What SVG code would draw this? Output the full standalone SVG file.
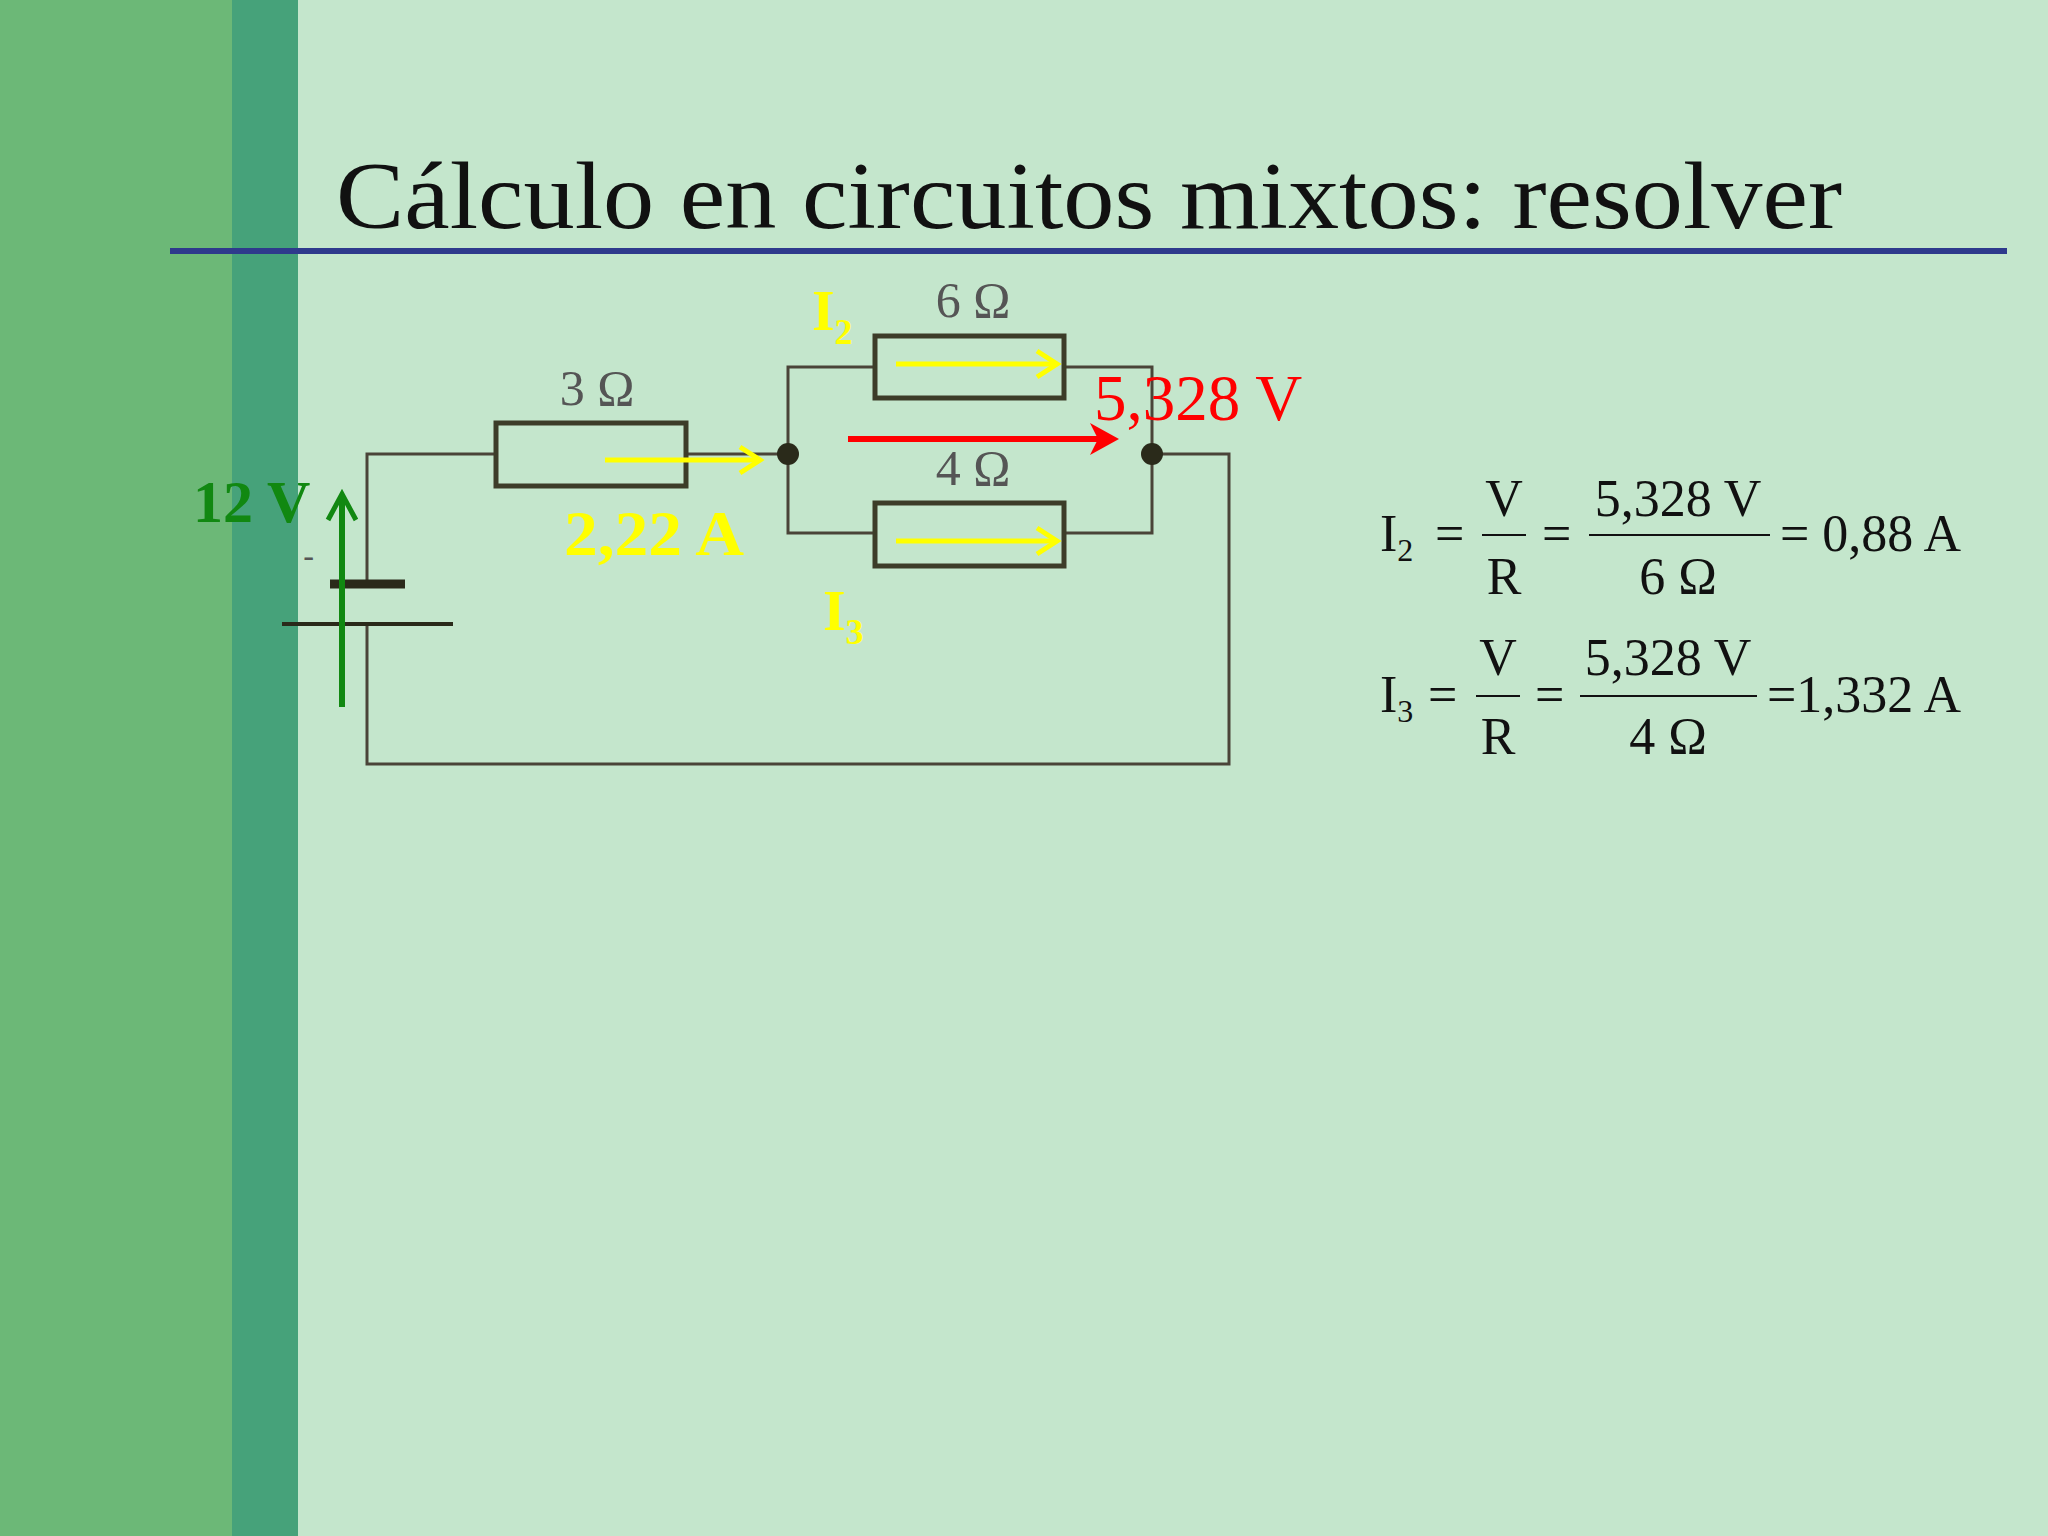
<svg xmlns="http://www.w3.org/2000/svg" width="2048" height="1536" viewBox="0 0 2048 1536">
<defs>
<style>
.w{stroke:#4a4438;stroke-width:3;fill:none}
.r{stroke:#3c3c28;stroke-width:5;fill:none}
.lab{font-family:"Liberation Serif",serif;font-size:50px;fill:#555;text-anchor:middle}
.eq{font-family:"Liberation Serif",serif;font-size:52px;fill:#111}
.y{stroke:#ffff00;stroke-width:5;fill:none}
.yb{font-family:"Liberation Serif",serif;font-weight:bold;fill:#ffff00}
</style>
</defs>
<rect width="2048" height="1536" fill="#c4e6cc"/>
<rect width="232" height="1536" fill="#6cb877"/>
<rect x="232" width="66" height="1536" fill="#46a27a"/>
<text x="336" y="228" font-family="Liberation Serif,serif" font-size="96" fill="#111" textLength="1506" lengthAdjust="spacingAndGlyphs">Cálculo en circuitos mixtos: resolver</text>
<line x1="170" y1="251" x2="2007" y2="251" stroke="#2e3a8c" stroke-width="6"/>
<g id="connectors">
<polyline class="w" points="496,454 367,454 367,584"/>
<polyline class="w" points="367,624 367,764 1229,764 1229,454 1152,454"/>
<line class="w" x1="686" y1="454" x2="788" y2="454"/>
<polyline class="w" points="875,367 788,367 788,533 875,533"/>
<polyline class="w" points="1064,367 1152,367 1152,533 1064,533"/>
<circle cx="788" cy="454" r="11" fill="#2a2a1a"/>
<circle cx="1152" cy="454" r="11" fill="#2a2a1a"/>
</g>
<g id="r3"><rect class="r" x="496" y="423" width="190" height="63" fill="#c4e6cc"/><text class="lab" x="597" y="405">3 Ω</text></g>
<g id="r6"><rect class="r" x="875" y="336" width="189" height="62" fill="#c4e6cc"/><text class="lab" x="973" y="317">6 Ω</text></g>
<g id="r4"><rect class="r" x="875" y="503" width="189" height="63" fill="#c4e6cc"/><text class="lab" x="973" y="485">4 Ω</text></g>
<g id="battery">
<line x1="330" y1="584" x2="405" y2="584" stroke="#2a2a1a" stroke-width="9"/>
<line x1="282" y1="624" x2="453" y2="624" stroke="#2a2a1a" stroke-width="4"/>
<text x="303" y="568" font-family="Liberation Sans,sans-serif" font-size="34" fill="#555">-</text>
</g>
<g id="arrows">
<line x1="342" y1="707" x2="342" y2="498" stroke="#118811" stroke-width="6"/>
<polyline points="328,520 342,494 356,520" stroke="#118811" stroke-width="5" fill="none"/>
<text x="193" y="522" font-family="Liberation Serif,serif" font-weight="bold" font-size="60" fill="#118811">12 V</text>
<line class="y" x1="605" y1="460" x2="758" y2="460"/><polyline class="y" points="740,447 760,460 740,473"/>
<line class="y" x1="896" y1="364" x2="1055" y2="364"/><polyline class="y" points="1037,351 1057,364 1037,377"/>
<line class="y" x1="896" y1="541" x2="1055" y2="541"/><polyline class="y" points="1037,528 1057,541 1037,554"/>
<line x1="848" y1="439" x2="1110" y2="439" stroke="#ff0000" stroke-width="6"/>
<polygon points="1119,439 1090,423 1098,439 1090,455" fill="#ff0000"/>
<text x="1094" y="420" font-family="Liberation Serif,serif" font-size="65" fill="#ff0000">5,328 V</text>
<text class="yb" x="564" y="555" font-size="64" textLength="180" lengthAdjust="spacingAndGlyphs">2,22 A</text>
<text class="yb" x="812" y="330" font-size="58">I<tspan font-size="36" dy="14">2</tspan></text>
<text class="yb" x="823" y="630" font-size="58">I<tspan font-size="36" dy="14">3</tspan></text>
</g>
<g id="eq1" class="eq">
<text x="1380" y="551">I<tspan font-size="32" dy="10">2</tspan></text>
<text x="1435" y="551">=</text>
<text x="1504" y="516" text-anchor="middle">V</text>
<line x1="1482" y1="535" x2="1526" y2="535" stroke="#111" stroke-width="2"/>
<text x="1504" y="594" text-anchor="middle">R</text>
<text x="1542" y="551">=</text>
<text x="1678" y="516" text-anchor="middle">5,328 V</text>
<line x1="1589" y1="535" x2="1770" y2="535" stroke="#111" stroke-width="2"/>
<text x="1678" y="594" text-anchor="middle">6 Ω</text>
<text x="1780" y="551">= 0,88 A</text>
</g>
<g id="eq2" class="eq">
<text x="1380" y="712">I<tspan font-size="32" dy="10">3</tspan></text>
<text x="1428" y="712">=</text>
<text x="1498" y="675" text-anchor="middle">V</text>
<line x1="1476" y1="696" x2="1520" y2="696" stroke="#111" stroke-width="2"/>
<text x="1498" y="754" text-anchor="middle">R</text>
<text x="1535" y="712">=</text>
<text x="1668" y="675" text-anchor="middle">5,328 V</text>
<line x1="1580" y1="696" x2="1757" y2="696" stroke="#111" stroke-width="2"/>
<text x="1668" y="754" text-anchor="middle">4 Ω</text>
<text x="1767" y="712">=1,332 A</text>
</g>
</svg>
